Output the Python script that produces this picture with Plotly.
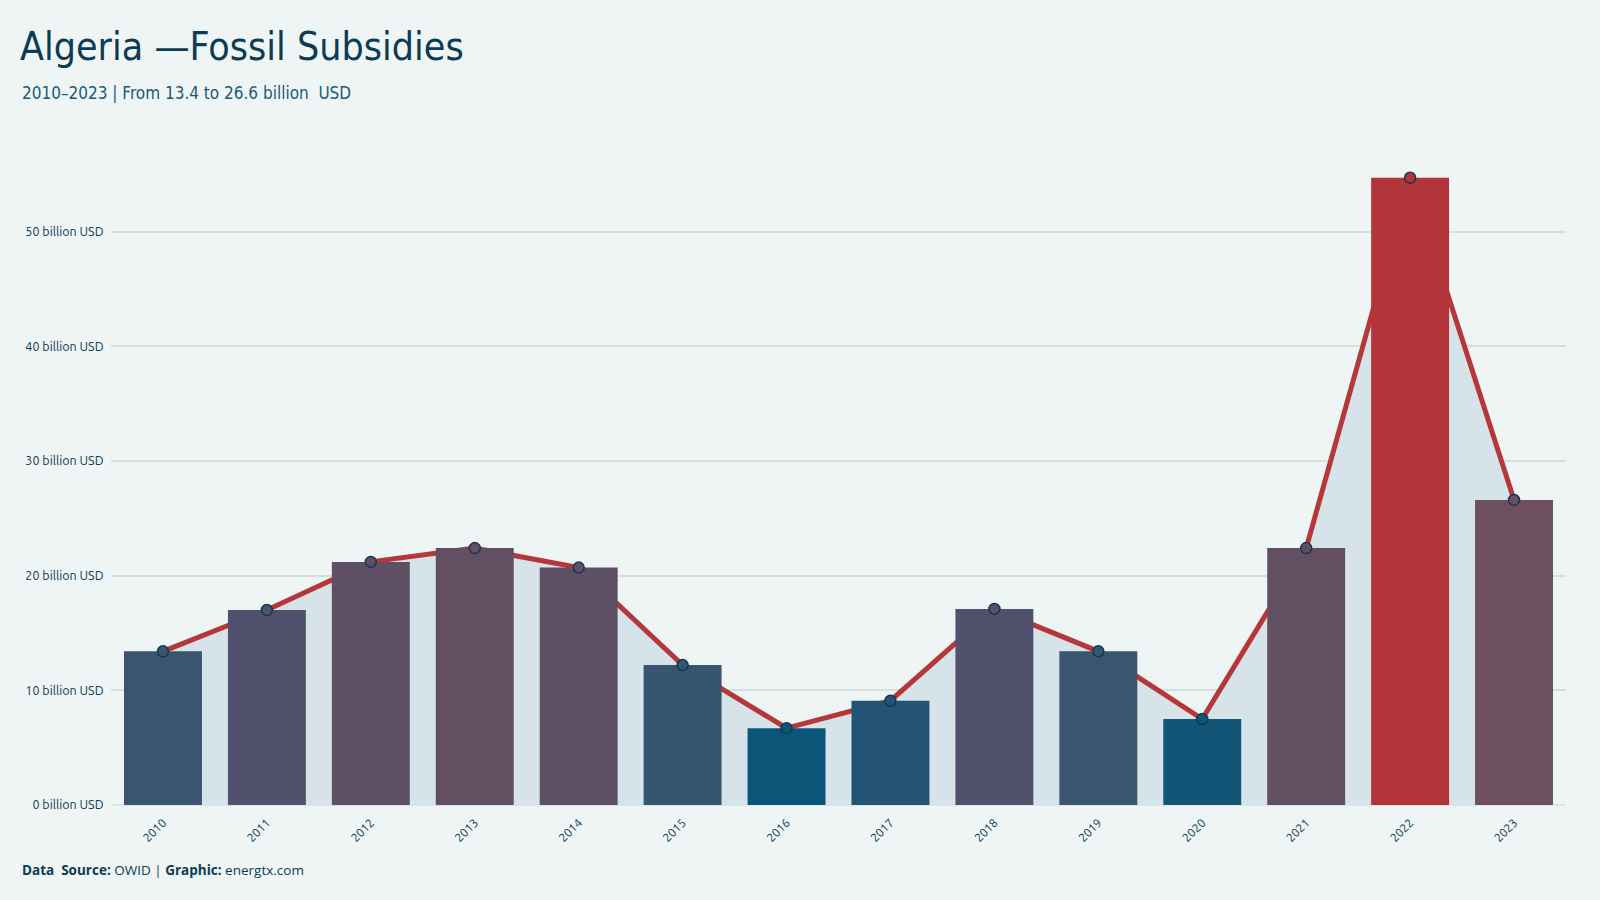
import plotly.graph_objects as go

years = ["2010", "2011", "2012", "2013", "2014", "2015", "2016",
         "2017", "2018", "2019", "2020", "2021", "2022", "2023"]
subsidies = [13.4, 17.0, 21.2, 22.4, 20.7, 12.2, 6.7, 9.1, 17.1, 13.4, 7.5, 22.4, 54.7, 26.6]
y_ticks = [0, 10, 20, 30, 40, 50]
y_tick_labels = [f"{v} billion USD" for v in y_ticks]

colorscale = [
    [0.0, "#0b5578"], [0.05, "#245474"], [0.14, "#3b5570"], [0.215, "#51516d"],
    [0.327, "#634f62"], [0.415, "#6e4f60"], [1.0, "#b33539"],
]
cmin, cmax = min(subsidies), max(subsidies)

W, H = 1600, 900
ml, mr, mt, mb = 111, 34, 140, 95
ph = H - mt - mb
ymax = (805 - mt) / ((805 - 231.6) / 50)

fig = go.Figure()
# area + line on the base axes (drawn beneath)
fig.add_trace(go.Scatter(
    x=years, y=subsidies, mode="lines", fill="tozeroy",
    fillcolor="#d6e3e8", line=dict(color="#b5373a", width=5),
    hoverinfo="skip", showlegend=False, xaxis="x", yaxis="y",
))
# bars + markers on overlay axes (drawn above)
fig.add_trace(go.Bar(
    x=years, y=subsidies, width=0.75,
    marker=dict(color=subsidies, colorscale=colorscale, cmin=cmin, cmax=cmax, line=dict(width=0)),
    showlegend=False, xaxis="x2", yaxis="y2",
))
fig.add_trace(go.Scatter(
    x=years, y=subsidies, mode="markers",
    marker=dict(size=11, color=subsidies, colorscale=colorscale, cmin=cmin, cmax=cmax,
                line=dict(color="#0d3b52", width=1.5)),
    showlegend=False, xaxis="x2", yaxis="y2",
))

fig.update_layout(
    width=W, height=H,
    margin=dict(l=ml, r=mr, t=mt, b=mb),
    paper_bgcolor="#eff5f5", plot_bgcolor="#eff5f5",
    font=dict(family="Ubuntu, Open Sans, sans-serif", color="#0d3b52"),
    title=dict(
        text="Algeria —Fossil Subsidies",
        font=dict(family="DejaVu Sans Condensed, Liberation Sans Narrow, sans-serif", size=39, color="#0d3b52"),
        xref="container", yref="container", x=20 / W, y=1 - 33 / H,
        xanchor="left", yanchor="top",
    ),
    xaxis=dict(
        type="category", tickangle=-45, tickfont=dict(size=12, color="#0d3b52"),
        showgrid=False, showline=False, ticks="outside", ticklen=5, tickcolor="rgba(0,0,0,0)",
        range=[-0.5, 13.5], categoryorder="array", categoryarray=years,
    ),
    yaxis=dict(
        range=[0, ymax], tickvals=y_ticks, ticktext=y_tick_labels,
        tickfont=dict(size=12.5, color="#0d3b52"),
        showgrid=True, gridcolor="#d4dfe0", gridwidth=1.5,
        zeroline=True, zerolinecolor="#dde7e8", zerolinewidth=1.5,
        ticks="outside", ticklen=4, tickcolor="rgba(0,0,0,0)",
    ),
    xaxis2=dict(
        type="category", overlaying="x", matches="x", visible=False,
        range=[-0.5, 13.5], categoryorder="array", categoryarray=years,
    ),
    yaxis2=dict(overlaying="y", range=[0, ymax], visible=False, showgrid=False),
    annotations=[
        dict(
            text="2010–2023 | From 13.4 to 26.6 billion  USD",
            xref="paper", yref="paper",
            x=(20 - ml) / (W - ml - mr), y=(805 - 81) / ph,
            xanchor="left", yanchor="top", showarrow=False,
            font=dict(family="DejaVu Sans Condensed, Liberation Sans Narrow, sans-serif", size=17, color="#1a5a7a"),
        ),
        dict(
            text="<b>Data  Source:</b> OWID | <b>Graphic:</b> energtx.com",
            xref="paper", yref="paper",
            x=(20 - ml) / (W - ml - mr), y=(805 - 870) / ph,
            xanchor="left", yanchor="middle", showarrow=False,
            font=dict(family="Open Sans, sans-serif", size=13.5, color="#0d3b52"),
        ),
    ],
)

fig.write_html("out.html")
